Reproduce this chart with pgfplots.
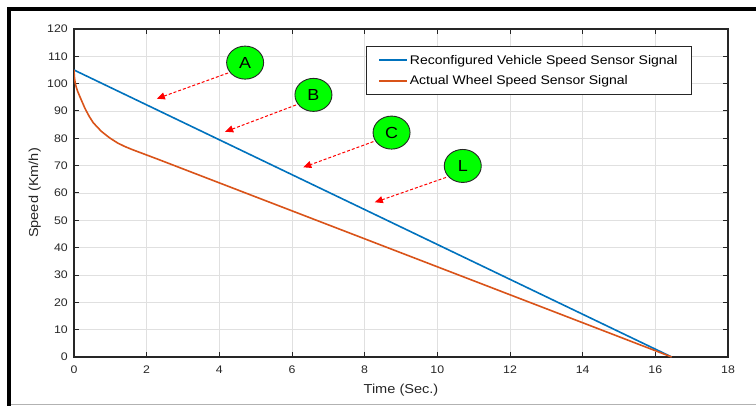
\documentclass[border=0pt]{standalone}
\usepackage{fontspec}
\setmainfont{Liberation Sans}[FakeStretch=1.12]
\usepackage{pgfplots}
\pgfplotsset{compat=1.18}
\usetikzlibrary{arrows.meta,shapes.geometric}
\definecolor{mblue}{rgb}{0,0.447,0.741}
\definecolor{morange}{rgb}{0.85,0.325,0.098}
\definecolor{axgray}{rgb}{0.15,0.15,0.15}
\definecolor{gridgray}{rgb}{0.88,0.88,0.88}
\definecolor{bgreen}{rgb}{0,1,0}
\begin{document}
\begin{tikzpicture}
\path[use as bounding box] (-74bp,-49bp) rectangle (682bp,357bp);
\begin{axis}[
 at={(0,0)}, anchor=south west,
 scale only axis, width=654bp, height=328bp,
 xmin=0, xmax=18, ymin=0, ymax=120,
 xtick={0,2,...,18}, ytick={0,10,...,120},
 grid=major, major grid style={gridgray, line width=0.8bp},
 axis line style={axgray, line width=1.1bp},
 tick style={axgray, line width=1bp},
 major tick length=5bp, tick align=inside,
 xtick pos=both, ytick pos=both,
 /pgf/number format/assume math mode=true,
 ticklabel style={font=\fontsize{11bp}{13bp}\selectfont, text=axgray},
 xticklabel style={anchor=north, inner sep=0pt, yshift=-9bp},
 yticklabel style={anchor=east, inner sep=0pt, xshift=-6bp},
 xlabel={Time (Sec.)}, ylabel={Speed (Km/h)},
 label style={font=\fontsize{13bp}{15bp}\selectfont, text=axgray},
 xlabel style={at={(axis description cs:0.5,-0.11)}, anchor=base},
 ylabel style={at={(axis description cs:-0.055,0.5)}, anchor=base},
 legend style={at={(rel axis cs:0.945,0.948)}, anchor=north east, draw=axgray, line width=0.8bp, fill=white, font=\fontsize{12.5bp}{14bp}\selectfont, inner xsep=12bp, inner ysep=6.5bp, row sep=6bp},
 legend cell align=left,
 legend image code/.code={\draw[#1, line width=1.6bp] (0bp,0bp) -- (28bp,0bp);},
]
\addplot[mblue, line width=1.6bp] coordinates {(0,105) (16.45,0)};
\addlegendentry{Reconfigured Vehicle Speed Sensor Signal}
\addplot[morange, line width=1.6bp, line join=round] coordinates {
 (0,105) (0.01,102.5) (0.03,100.5) (0.06,98.8) (0.1,97.2) (0.17,95) (0.3,91)
 (0.42,88) (0.53,85.7) (0.65,84) (0.75,82.6) (0.88,81.2) (1.0,80.0) (1.2,78.3)
 (1.4,77.0) (1.6,75.9) (1.8,74.9) (2.0,73.9) (2.3,72.4) (16.45,0)};
\addlegendentry{Actual Wheel Speed Sensor Signal}
% annotations
\draw[red, line width=1bp, dash pattern=on 3bp off 2bp, -{Triangle[length=8bp,width=7bp]}] (axis cs:4.24,103.9) -- (axis cs:2.28,94.5);
\draw[red, line width=1bp, dash pattern=on 3bp off 2bp, -{Triangle[length=8bp,width=7bp]}] (axis cs:6.11,92.2) -- (axis cs:4.16,82.4);
\draw[red, line width=1bp, dash pattern=on 3bp off 2bp, -{Triangle[length=8bp,width=7bp]}] (axis cs:8.24,78.8) -- (axis cs:6.31,69.4);
\draw[red, line width=1bp, dash pattern=on 3bp off 2bp, -{Triangle[length=8bp,width=7bp]}] (axis cs:10.24,65.7) -- (axis cs:8.28,56.6);
\tikzset{lbl/.style={ellipse, draw=black!85, fill=bgreen, line width=0.9bp, minimum width=37bp, minimum height=33bp, inner sep=0pt, font=\fontsize{16bp}{16bp}\selectfont}}
\node[lbl] at (axis cs:4.71,107.7) {A};
\node[lbl] at (axis cs:6.59,95.9) {B};
\node[lbl] at (axis cs:8.74,82.1) {C};
\node[lbl] at (axis cs:10.70,69.9) {L};
\end{axis}
\draw[black, line width=4bp] (-66.5bp,347.5bp) -- (682bp,347.5bp);
\draw[black, line width=4bp] (-64.5bp,349.5bp) -- (-64.5bp,-49bp);
\draw[black!30, line width=1bp] (-62.5bp,-47bp) -- (682bp,-47bp);
\end{tikzpicture}
\end{document}
